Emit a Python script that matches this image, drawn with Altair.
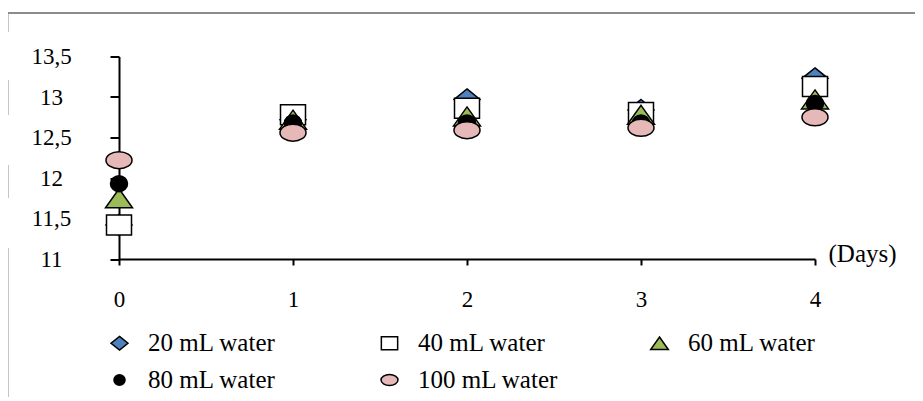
import altair as alt
import pandas as pd

days = [0, 1, 2, 3, 4]
series = ["20 mL water", "40 mL water", "60 mL water", "80 mL water", "100 mL water"]
w20 = [11.42, 12.72, 12.97, 12.84, 13.23]
w40 = [11.42, 12.78, 12.86, 12.81, 13.13]
w60 = [11.75, 12.72, 12.76, 12.78, 12.97]
w80 = [11.93, 12.68, 12.68, 12.68, 12.92]
w100 = [12.22, 12.56, 12.59, 12.62, 12.75]
y_ticks = [11, 11.5, 12, 12.5, 13, 13.5]

colors = ["#4F81BD", "#FFFFFF", "#9BBB59", "#000000", "#E6B9B8"]
shapes = [
    "M0,-1.05L1.3,0L0,1.05L-1.3,0Z",
    "M-1.25,-1H1.25V1H-1.25Z",
    "M0,-0.95L1.35,0.95L-1.35,0.95Z",
    "M-0.85,0A0.85,0.8 0 1,0 0.85,0A0.85,0.8 0 1,0 -0.85,0Z",
    "M-1.3,0A1.3,0.85 0 1,0 1.3,0A1.3,0.85 0 1,0 -1.3,0Z",
]

rows = []
for name, vals in zip(series, [w20, w40, w60, w80, w100]):
    for d, v in zip(days, vals):
        rows.append({"Day": d, "Value": v, "Series": name})
df = pd.DataFrame(rows)

FONT = "Liberation Serif, Times New Roman, serif"


def make_legend():
    return alt.Legend(orient="none", legendX=-12, legendY=274,
                      direction="horizontal", columns=3, gridAlign="all",
                      columnPadding=88, rowPadding=11,
                      labelFont=FONT, labelFontSize=25,
                      labelColor="black", labelOffset=16,
                      symbolSize=170, symbolStrokeColor="black",
                      symbolStrokeWidth=1.5, title=None)


points = alt.Chart(df).mark_point(
    filled=True, size=400, stroke="black", strokeWidth=1.5, opacity=1
).encode(
    x=alt.X("Day:Q",
            scale=alt.Scale(domain=[0, 4], nice=False, zero=False),
            axis=alt.Axis(values=days, format="d", grid=False,
                          domainColor="black", domainWidth=2,
                          tickColor="black", tickWidth=2, tickSize=6,
                          labelFont=FONT, labelFontSize=23, labelColor="black",
                          labelBaseline="middle", labelPadding=34,
                          labelFlush=False, labelOverlap=False,
                          title="(Days)", titleFont=FONT, titleFontSize=25,
                          titleFontWeight="normal", titleColor="black",
                          titleX=709, titleY=-6, titleAlign="left",
                          titleBaseline="middle")),
    y=alt.Y("Value:Q",
            scale=alt.Scale(domain=[11, 13.5], nice=False, zero=False),
            axis=alt.Axis(values=y_ticks, grid=False,
                          labelExpr="replace(toString(datum.value), '.', ',')",
                          domainColor="black", domainWidth=2,
                          tickColor="black", tickWidth=2, tickSize=9,
                          labelFont=FONT, labelFontSize=23, labelColor="black",
                          labelAlign="center", labelBaseline="middle",
                          labelPadding=59, labelOverlap=False, title=None)),
    color=alt.Color("Series:N", sort=series,
                    scale=alt.Scale(domain=series, range=colors),
                    legend=make_legend()),
    shape=alt.Shape("Series:N", sort=series,
                    scale=alt.Scale(domain=series, range=shapes),
                    legend=make_legend()),
)

one = pd.DataFrame({"a": [0]})
frame_color = "#8c8c8c"
top_line = alt.Chart(one).mark_rule(color=frame_color, strokeWidth=2).encode(
    x=alt.value(-111), x2=alt.value(810), y=alt.value(-43.5))
left_segments = []
for a, b in [(-43.5, -24.5), (23.5, 58.5), (108.5, 141.5), (191.5, 348)]:
    left_segments.append(
        alt.Chart(one).mark_rule(color=frame_color, strokeWidth=2).encode(
            x=alt.value(-111.5), y=alt.value(a), y2=alt.value(b)))

chart = alt.layer(top_line, *left_segments, points).properties(
    width=696, height=202.5,
    autosize=alt.AutoSizeParams(type="none"),
    padding={"left": 111, "top": 48.5, "right": 100, "bottom": 138},
).configure_view(stroke=None)

chart.save("out.html", embed_options={"renderer": "svg", "actions": False})
